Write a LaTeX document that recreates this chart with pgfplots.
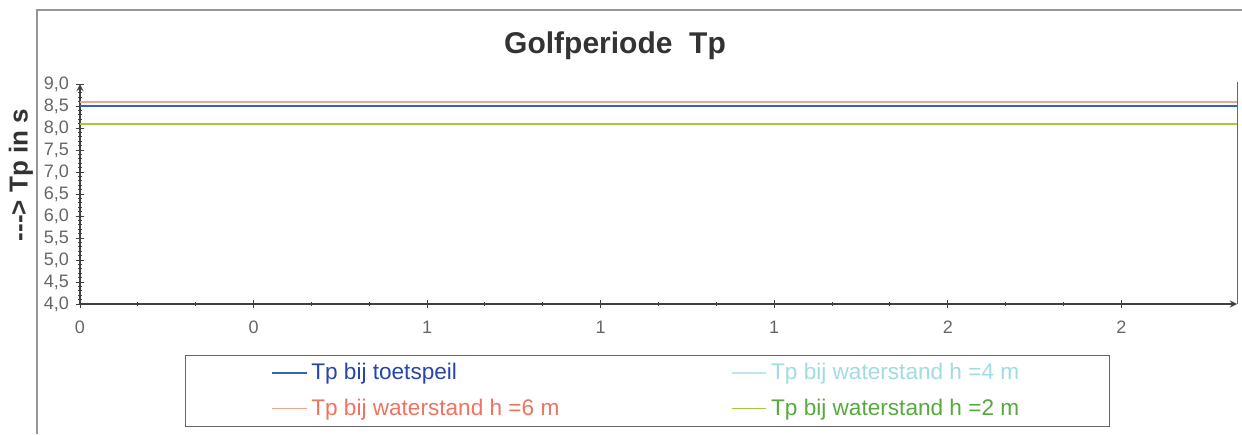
\documentclass[border=0pt]{standalone}
\usepackage{fontspec}
\setmainfont{Liberation Sans}
\usepackage{pgfplots}
\pgfplotsset{compat=1.18}

\definecolor{tpblue}{RGB}{50,100,190}
\definecolor{tpbluetxt}{RGB}{40,70,170}
\definecolor{tpred}{RGB}{240,165,145}
\definecolor{tpredtxt}{RGB}{240,115,95}
\definecolor{tpcyan}{RGB}{185,232,235}
\definecolor{tpcyantxt}{RGB}{160,220,225}
\definecolor{tpgreen}{RGB}{165,200,55}
\definecolor{tpgreentxt}{RGB}{85,170,60}
\definecolor{framegray}{RGB}{150,150,150}

\begin{document}
\begin{tikzpicture}
\useasboundingbox (0,0) rectangle (621pt,217pt);
% chart frame (left and top)
\draw[framegray, line width=0.6pt] (18.5pt,0) -- (18.5pt,212pt) -- (621pt,212pt);

\begin{axis}[
    at={(40pt,65pt)}, anchor=south west,
    scale only axis,
    width=578.5pt, height=110pt,
    xmin=0, xmax=2,
    ymin=4, ymax=9,
    axis lines=left,
    every non boxed x axis/.append style={x axis line style=-},
    every non boxed y axis/.append style={y axis line style=-},
    axis line style={draw=black!75, line width=0.6pt},
    xtick={0,0.3,0.6,0.9,1.2,1.5,1.8},
    xticklabels={0,0,1,1,1,2,2},
    minor x tick num=2,
    ytick={4,4.5,5,5.5,6,6.5,7,7.5,8,8.5,9},
    minor y tick num=4,
    tick align=center,
    major tick length=4pt,
    minor tick length=2pt,
    tick style={black!75, line width=0.5pt},
    /pgf/number format/assume math mode=true,
    yticklabel style={/pgf/number format/.cd, fixed, fixed zerofill, precision=1, use comma},
    ticklabel style={font=\fontsize{9}{10}\selectfont, text=black!60},
    xticklabel style={yshift=-3pt},
    legend columns=2,
    legend cell align=left,
    legend style={
        at={(axis description cs:0.0908,-0.232)}, anchor=north west,
        draw=black!60, line width=0.5pt,
        font=\fontsize{11.3}{13}\selectfont,
        inner xsep=43pt, inner ysep=2pt,
        row sep=4pt,
        /tikz/every even column/.append style={column sep=84pt},
    },
    legend image post style={line width=0.8pt},
]
\addplot[tpblue, line width=1pt] coordinates {(0,8.5) (2,8.5)};
\addlegendentry{\textcolor{tpbluetxt}{Tp bij toetspeil}}
\addplot[tpcyan, line width=1pt] coordinates {(0,8.1) (2,8.1)};
\addlegendentry{\textcolor{tpcyantxt}{Tp bij waterstand h =4 m}}
\addplot[tpred, line width=1pt] coordinates {(0,8.6) (2,8.6)};
\addlegendentry{\textcolor{tpredtxt}{Tp bij waterstand h =6 m}}
\addplot[tpgreen, line width=1pt] coordinates {(0,8.1) (2,8.1)};
\addlegendentry{\textcolor{tpgreentxt}{Tp bij waterstand h =2 m}}
\end{axis}

% right border of plot area
\draw[black!60, line width=0.5pt] (618.5pt,65pt) -- (618.5pt,176pt);
% title and y label
\node[font=\bfseries\fontsize{15}{18}\selectfont, text=black!80] at (307.5pt,194pt) {Golfperiode\ \ Tp};
\node[font=\bfseries\fontsize{13}{15}\selectfont, text=black!80, rotate=90] at (10.5pt,129.5pt) {{-}{-}{-}> Tp in s};
\end{tikzpicture}
\end{document}
